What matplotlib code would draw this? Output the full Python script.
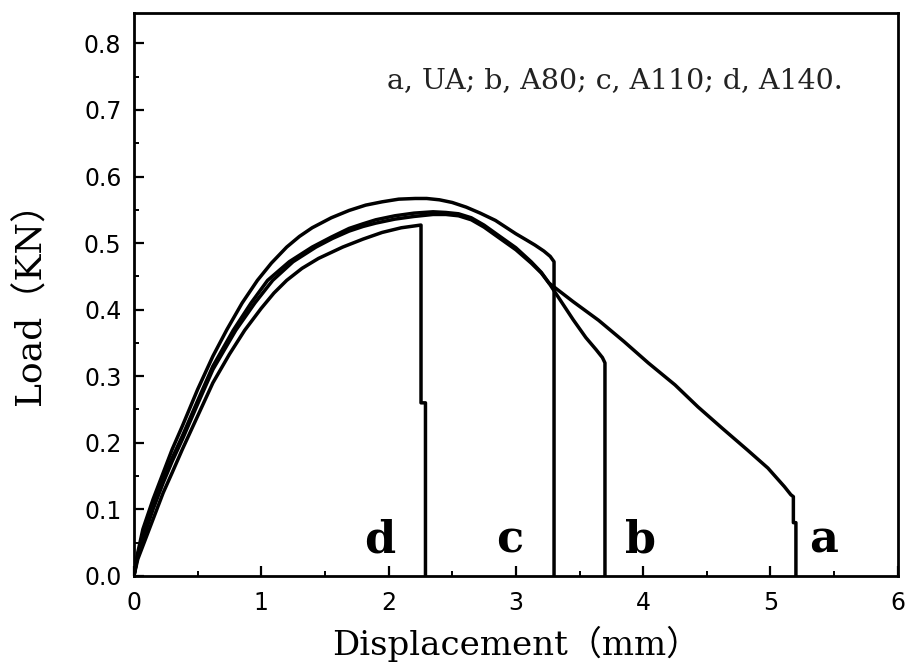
import numpy as np
import matplotlib
matplotlib.use("Agg")
import matplotlib.pyplot as plt
from matplotlib.ticker import MultipleLocator

# load-displacement curves (mm, KN)
a_x = [0, 0.03, 0.07, 0.15, 0.23, 0.30, 0.38, 0.50, 0.62, 0.80, 0.95, 1.09, 1.25, 1.43,
       1.56, 1.69, 1.80, 1.90, 2.05, 2.20, 2.35, 2.45, 2.55, 2.65, 2.75, 2.86, 3.00, 3.12,
       3.20, 3.26, 3.45, 3.65, 3.85, 4.04, 4.25, 4.43, 4.62, 4.82, 4.98, 5.11, 5.16,
       5.18, 5.18, 5.20, 5.20]
a_y = [0, 0.03, 0.055, 0.10, 0.14, 0.172, 0.205, 0.258, 0.31, 0.369, 0.41, 0.444, 0.472, 0.494,
       0.507, 0.518, 0.525, 0.530, 0.536, 0.540, 0.543, 0.543, 0.541, 0.535, 0.524, 0.509, 0.490, 0.470,
       0.455, 0.440, 0.412, 0.384, 0.352, 0.320, 0.287, 0.254, 0.222, 0.189, 0.162, 0.134, 0.122,
       0.119, 0.080, 0.080, 0]

b_x = [0, 0.03, 0.07, 0.15, 0.23, 0.30, 0.38, 0.50, 0.62, 0.78, 0.92, 1.05, 1.22, 1.40,
       1.55, 1.69, 1.80, 1.90, 2.05, 2.20, 2.35, 2.45, 2.55, 2.65, 2.75, 2.86, 3.00, 3.12,
       3.20, 3.26, 3.35, 3.45, 3.55, 3.63, 3.68, 3.70, 3.70]
b_y = [0, 0.032, 0.06, 0.105, 0.145, 0.177, 0.21, 0.263, 0.315, 0.369, 0.41, 0.444, 0.472, 0.494,
       0.509, 0.522, 0.529, 0.535, 0.541, 0.545, 0.547, 0.546, 0.544, 0.538, 0.527, 0.512, 0.493, 0.472,
       0.456, 0.440, 0.414, 0.385, 0.358, 0.340, 0.328, 0.320, 0]

c_x = [0, 0.03, 0.07, 0.15, 0.23, 0.30, 0.38, 0.50, 0.62, 0.73, 0.85, 0.97, 1.08, 1.20,
       1.30, 1.40, 1.55, 1.69, 1.82, 1.95, 2.08, 2.21, 2.30, 2.40, 2.50, 2.61, 2.72, 2.84,
       2.92, 3.00, 3.08, 3.15, 3.22, 3.27, 3.30, 3.30]
c_y = [0, 0.035, 0.07, 0.115, 0.155, 0.19, 0.225, 0.28, 0.33, 0.37, 0.41, 0.444, 0.47, 0.494,
       0.51, 0.523, 0.538, 0.549, 0.557, 0.562, 0.566, 0.567, 0.567, 0.565, 0.561, 0.554, 0.545, 0.534,
       0.524, 0.514, 0.505, 0.497, 0.488, 0.480, 0.472, 0]

d_x = [0, 0.03, 0.07, 0.15, 0.23, 0.30, 0.38, 0.50, 0.62, 0.75, 0.87, 1.00, 1.10, 1.20,
       1.32, 1.45, 1.64, 1.80, 1.95, 2.10, 2.25, 2.255, 2.255, 2.29, 2.29]
d_y = [0, 0.025, 0.045, 0.085, 0.125, 0.155, 0.19, 0.24, 0.29, 0.333, 0.369, 0.402, 0.425, 0.444,
       0.462, 0.477, 0.494, 0.506, 0.516, 0.523, 0.527, 0.527, 0.26, 0.26, 0]

curve_labels = ["a", "b", "c", "d"]
label_x = [5.42, 3.98, 2.95, 1.93]
note = "a, UA; b, A80; c, A110; d, A140."

serif = ["DejaVu Serif", "Noto Sans CJK SC"]

fig = plt.figure(figsize=(9.05, 6.72), dpi=100)
ax = fig.add_axes([0.148, 0.143, 0.844, 0.838])

for xs, ys in [(a_x, a_y), (b_x, b_y), (c_x, c_y), (d_x, d_y)]:
    ax.plot(xs, ys, color="black", lw=2.5, solid_joinstyle="round")

for lab, lx in zip(curve_labels, label_x):
    ax.text(lx, 0.035, lab, ha="center", va="baseline", fontsize=32,
            fontweight="bold", family="DejaVu Serif")

ax.text(1.99, 0.733, note, ha="left", va="baseline", fontsize=20.5,
        family="DejaVu Serif", color="#222222")

ax.set_xlim(0, 6)
ax.set_ylim(0, 0.846)
ax.xaxis.set_major_locator(MultipleLocator(1))
ax.xaxis.set_minor_locator(MultipleLocator(0.5))
ax.yaxis.set_major_locator(MultipleLocator(0.1))
ax.yaxis.set_minor_locator(MultipleLocator(0.05))
ax.yaxis.set_major_formatter(plt.FormatStrFormatter("%.1f"))
ax.tick_params(which="major", direction="in", length=7, width=1.6,
               labelsize=17, pad=9)
ax.tick_params(which="minor", direction="in", length=3.5, width=1.4)
ax.tick_params(axis="x", pad=11)
for s in ax.spines.values():
    s.set_linewidth(2.0)

ax.set_xlabel("Displacement（mm）", fontsize=24.5, family=serif, labelpad=8)
ax.set_ylabel("Load（KN）", fontsize=26, family=serif, labelpad=26)

fig.savefig("out.png", dpi=100)
